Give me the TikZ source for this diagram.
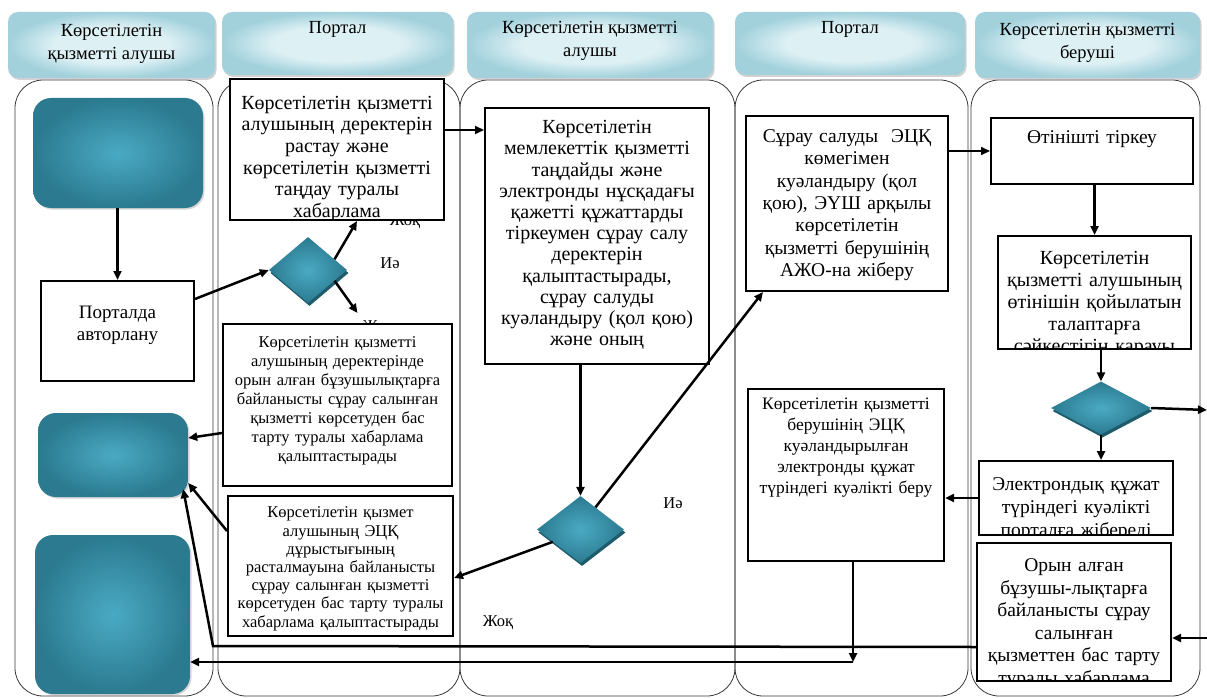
\documentclass[tikz,border=0pt]{standalone}
\usepackage{fontspec}
\setmainfont{Liberation Serif}
\usetikzlibrary{shapes.geometric,arrows.meta,shadows,calc}

\definecolor{tealC}{HTML}{4AAAC3}
\definecolor{tealM}{HTML}{3B93AB}
\definecolor{tealE}{HTML}{2B7A8F}
\definecolor{tealD}{HTML}{1E5B6B}
\definecolor{hdrC}{HTML}{DDF0F4}
\definecolor{hdrE}{HTML}{A2D1DC}
\definecolor{laneline}{HTML}{3A3A3A}

\pgfdeclareradialshading{tealglow}{\pgfpoint{0bp}{0bp}}{color(0bp)=(tealC); color(12bp)=(tealM); color(25bp)=(tealE); color(50bp)=(tealE)}
\pgfdeclareradialshading{hdrglow}{\pgfpoint{0bp}{0bp}}{color(0bp)=(hdrC); color(14bp)=(hdrC); color(25bp)=(hdrE); color(50bp)=(hdrE)}

\tikzset{
  lane/.style={draw=laneline, line width=0.8pt, rounded corners=28pt},
  hdr/.style={shade, shading=hdrglow, rounded corners=10pt, inner sep=0pt,
    drop shadow={shadow xshift=1.5pt, shadow yshift=-2pt, fill=black!35, opacity=0.5}},
  hdrtxt/.style={align=center, inner sep=0pt, font=\fontsize{18.5}{22.5}\selectfont},
  tealbox/.style={shade, shading=tealglow, rounded corners=18pt, inner sep=0pt,
    drop shadow={shadow xshift=1.5pt, shadow yshift=-1.5pt, fill=black!40, opacity=0.4}},
  dia/.style={shape=diamond, shade, shading=tealglow, inner sep=0pt,
    drop shadow={shadow xshift=1.5pt, shadow yshift=-3pt, fill=tealD, opacity=1}},
  box/.style={draw=black, fill=white, line width=2pt, inner sep=0pt, anchor=north west},
  btxt/.style={anchor=north, align=center, inner sep=0pt, draw=none, fill=none,
    minimum width=0pt, minimum height=0pt, shape=rectangle},
  arr/.style={line width=2.5pt, -{Triangle[length=9pt,width=8pt]}},
  lbl/.style={inner sep=0pt, font=\fontsize{16.5}{18}\selectfont},
}

\begin{document}
\begin{tikzpicture}[x=1pt,y=-1pt]
\useasboundingbox (0,0) rectangle (1207,698);
\fill[white] (0,0) rectangle (1207,698);

% lanes
\draw[lane] (15,80) rectangle (213,696);
\draw[lane] (218,80) rectangle (460,696);
\draw[lane] (460,80) rectangle (735,696);
\draw[lane] (735,80) rectangle (968,696);
\draw[lane] (971,80) rectangle (1200,696);

% headers
\node[hdr, minimum width=207pt, minimum height=66pt] (h1) at (111.5,45) {};
\node[hdrtxt] (h1t) at (111.5,44) {Көрсетілетін\\қызметті алушы};
\node[hdr, minimum width=231pt, minimum height=63pt] (h2) at (337.5,43.5) {};
\node[hdrtxt] (h2t) at (337.5,29) {Портал};
\node[hdr, minimum width=246pt, minimum height=66pt] (h3) at (590,45) {};
\node[hdrtxt] (h3t) at (590,41) {Көрсетілетін қызметті\\алушы};
\node[hdr, minimum width=230pt, minimum height=63pt] (h4) at (850,43.5) {};
\node[hdrtxt] (h4t) at (850,29) {Портал};
\node[hdr, minimum width=225pt, minimum height=66pt] (h5) at (1087.5,45) {};
\node[hdrtxt] (h5t) at (1087.5,43) {Көрсетілетін қызметті\\беруші};

% hidden labels (partly covered by boxes)
\node[lbl, anchor=base] (l1) at (405,225) {Жоқ};
\node[lbl, anchor=north] (l3) at (378,320.5) {Жоқ};

% lane 1
\node[tealbox, minimum width=170pt, minimum height=110pt] (tA) at (118,153) {};
\node[box, minimum width=153pt, minimum height=100pt,
  path picture={\node[btxt, text width=150pt, font=\fontsize{19}{22}\selectfont]
    at ([yshift=-24pt]path picture bounding box.north) {Порталда\\авторлану};}] (portal) at (40,280) {};
\node[tealbox, minimum width=150pt, minimum height=84pt] (tB) at (113,455) {};
\node[tealbox, minimum width=155pt, minimum height=159pt] (tC) at (112.5,614.5) {};

% lane 2
\node[box, minimum width=214pt, minimum height=141pt,
  path picture={\node[btxt, text width=210pt, font=\fontsize{20}{21.6}\selectfont]
    at ([yshift=-16pt]path picture bounding box.north)
    {Көрсетілетін қызметті\\алушының деректерін\\растау және\\көрсетілетін қызметті\\таңдау туралы\\хабарлама};}] (p1) at (229,78) {};
\node[dia, minimum width=78pt, minimum height=66pt] (d1) at (308,270) {};
\node[box, minimum width=229pt, minimum height=162pt,
  path picture={\node[btxt, text width=226pt, font=\fontsize{16.5}{18.9}\selectfont]
    at ([yshift=-11.9pt]path picture bounding box.north)
    {Көрсетілетін қызметті\\алушының деректерінде\\орын алған бұзушылықтарға\\байланысты сұрау салынған\\қызметті көрсетуден бас\\тарту туралы хабарлама\\қалыптастырады};}] (p2) at (222,323) {};
\node[box, minimum width=225pt, minimum height=140pt,
  path picture={\node[btxt, text width=222pt, font=\fontsize{16.5}{18.2}\selectfont]
    at ([yshift=-9.9pt]path picture bounding box.north)
    {Көрсетілетін қызмет\\алушының ЭЦҚ\\дұрыстығының\\расталмауына байланысты\\сұрау салынған қызметті\\көрсетуден бас тарту туралы\\хабарлама қалыптастырады};}] (p3) at (227,495) {};

% lane 3
\node[box, minimum width=224pt, minimum height=256pt,
  path picture={\node[btxt, text width=220pt, font=\fontsize{20}{21.2}\selectfont]
    at ([yshift=-11.4pt]path picture bounding box.north)
    {Көрсетілетін\\мемлекеттік қызметті\\таңдайды және\\электронды нұсқадағы\\қажетті құжаттарды\\тіркеумен сұрау салу\\деректерін\\қалыптастырады,\\сұрау салуды\\куәландыру (қол қою)\\және оның};}] (q) at (484,107) {};
\node[dia, minimum width=87pt, minimum height=67pt] (d2) at (580.5,529.5) {};

% lane 4
\node[box, minimum width=202pt, minimum height=175pt,
  path picture={\node[btxt, text width=198pt, font=\fontsize{19.5}{22.3}\selectfont]
    at ([yshift=-12.6pt]path picture bounding box.north)
    {Сұрау салуды\ \ ЭЦҚ\\көмегімен\\куәландыру (қол\\қою), ЭҮШ арқылы\\көрсетілетін\\қызметті берушінің\\АЖО-на жіберу};}] (sur) at (745,115) {};
\node[box, minimum width=196pt, minimum height=172pt,
  path picture={\node[btxt, text width=194pt, font=\fontsize{17.5}{21.2}\selectfont]
    at ([yshift=-7.5pt]path picture bounding box.north)
    {Көрсетілетін қызметті\\берушінің ЭЦҚ\\куәландырылған\\электронды құжат\\түріндегі куәлікті беру};}] (cert) at (747,388) {};

% lane 5
\node[box, minimum width=202pt, minimum height=66pt,
  path picture={\node[btxt, text width=198pt, font=\fontsize{19.5}{22}\selectfont]
    at ([yshift=-11.6pt]path picture bounding box.north) {Өтінішті тіркеу};}] (reg) at (990,117) {};
\node[box, minimum width=193pt, minimum height=113pt,
  path picture={\node[btxt, text width=190pt, font=\fontsize{20}{22}\selectfont]
    at ([yshift=-14.4pt]path picture bounding box.north)
    {Көрсетілетін\\қызметті алушының\\өтінішін қойылатын\\талаптарға\\сәйкестігін қарауы};}] (chk) at (997,235) {};
\node[dia, minimum width=100pt, minimum height=53pt] (d3) at (1101,408) {};
\node[box, minimum width=194pt, minimum height=74pt,
  path picture={\node[btxt, text width=190pt, font=\fontsize{19.5}{23}\selectfont]
    at ([yshift=-15.5pt]path picture bounding box.north)
    {Электрондық құжат\\түріндегі куәлікті\\порталға жібереді};}] (el) at (978,460) {};
\node[box, minimum width=194pt, minimum height=138pt,
  path picture={\node[btxt, text width=190pt, font=\fontsize{19.5}{22.5}\selectfont]
    at ([yshift=-15pt]path picture bounding box.north)
    {Орын алған\\бұзушы-лықтарға\\байланысты сұрау\\салынған\\қызметтен бас тарту\\туралы хабарлама};}] (orn) at (976,542) {};

% visible labels
\node[lbl] (l2) at (390,263) {Иә};
\node[lbl] (l4) at (673,503) {Иә};
\node[lbl] (l5) at (498,623) {Жоқ};

% connectors
\coordinate (rE1) at (1207,410);
\coordinate (rE2) at (1207,638);
\coordinate (b1) at (853,662);
\coordinate (b2) at (213,646);

\draw[arr] (tA.south -| portal.north) -- (portal.north);
\draw[arr] ([yshift=32pt]portal.east) -- (d1.west);
\draw[arr] (d1.22) -- ([xshift=20pt]p1.south);
\draw[arr] (d1.-22) -- ([xshift=20pt,yshift=10pt]p2.north);
\draw[arr] ([yshift=19.5pt]p1.east) -- ([yshift=19.5pt]p1.east -| q.west);
\draw[arr] (q.south -| d2.north) -- (d2.north);
\draw[arr] (d2.56) -- ([xshift=18pt]sur.south west);
\draw[arr] (d2.204) -- ([yshift=-12pt]p3.east);
\draw[arr, line width=1.6pt] (sur.east |- reg.west) -- (reg.west);
\draw[arr] (reg.south -| chk.north) -- (chk.north);
\draw[arr] (chk.south -| d3.north) -- (d3.north);
\draw[arr] (d3.south) -- (d3.south |- el.north);
\draw[arr] (d3.east) -- (rE1);
\draw[arr] (rE2) -- (rE2 -| orn.east);
\draw[arr] (el.west) -- (el.west -| cert.east);
\draw[arr] (cert.south -| b1) -- (b1);
\draw[arr] (b1) -- (b1 -| tC.east);
\draw[arr] ([yshift=-35pt]orn.west) -- (b2) -- ([xshift=-5pt,yshift=8pt]tB.south east);
\draw[arr] ([yshift=35pt]p3.west) -- ([yshift=-28pt]tB.east);
\draw[arr] ([yshift=-28pt]p2.west) -- ([yshift=17pt]tB.east);
\end{tikzpicture}
\end{document}
